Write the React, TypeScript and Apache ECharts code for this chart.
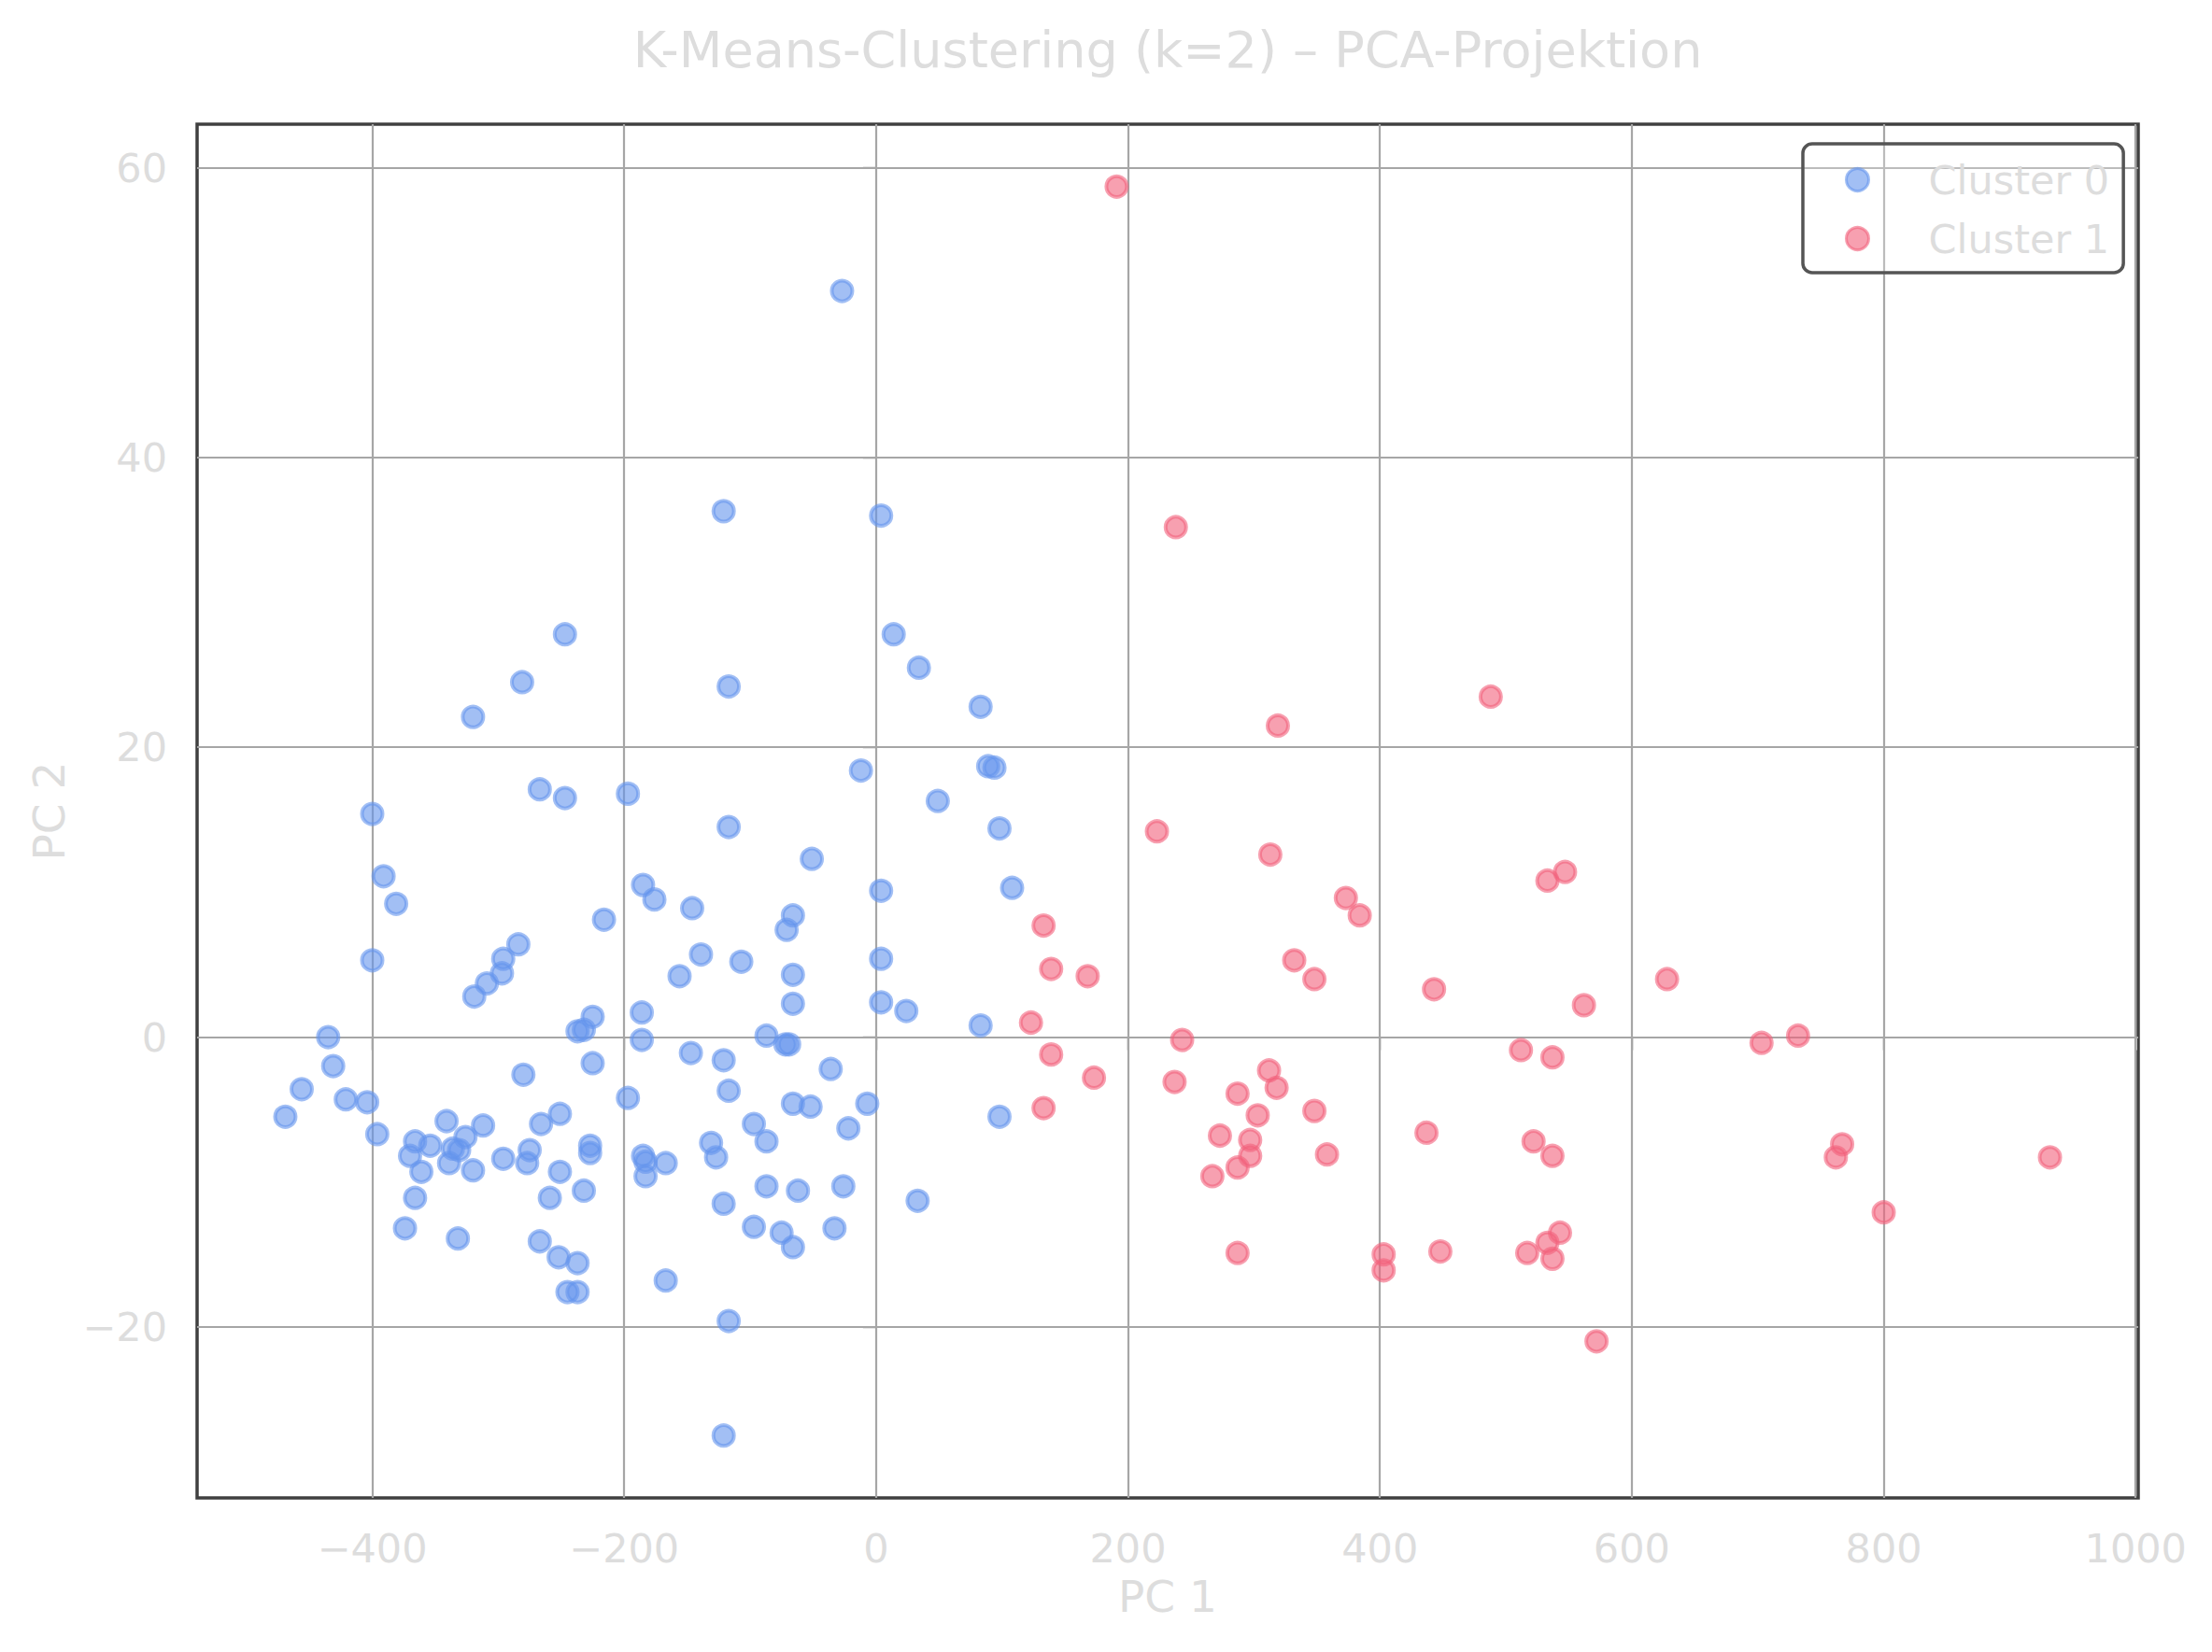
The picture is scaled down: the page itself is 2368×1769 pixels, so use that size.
import React, { useEffect, useRef } from "react";
import * as echarts from "echarts";

// PCA coordinates (PC 1, PC 2) of each sample, grouped by k-means label
const cluster0: [number, number][] = [
  [-27, 51.5], [-121, 36.3], [4, 36.0], [-247, 27.8], [14, 27.8], [34, 25.5],
  [-281, 24.5], [-117, 24.2], [83, 22.8], [-320, 22.1], [89, 18.7], [94, 18.6],
  [-12, 18.4], [-267, 17.1], [-247, 16.5], [-197, 16.8], [49, 16.3], [-400, 15.4],
  [-117, 14.5], [98, 14.4], [-51, 12.3], [-391, 11.1], [108, 10.3], [4, 10.1],
  [-381, 9.2], [-185, 10.5], [-176, 9.5], [-146, 8.9], [-66, 8.4], [-71, 7.4],
  [-216, 8.1], [-284, 6.4], [-296, 5.4], [-400, 5.3], [4, 5.4], [-139, 5.7],
  [-107, 5.2], [-297, 4.4], [-66, 4.3], [-156, 4.2], [-309, 3.7], [-319, 2.8],
  [-66, 2.3], [4, 2.4], [24, 1.8], [-225, 1.4], [-186, 1.7], [83, 0.8],
  [-232, 0.5], [-237, 0.4], [-435, 0], [-186, -0.2], [-87, 0.1], [-72, -0.5],
  [-69, -0.5], [-147, -1.1], [-121, -1.6], [-431, -2.0], [-225, -1.8], [-36, -2.2],
  [-280, -2.6], [-456, -3.6], [-117, -3.7], [-421, -4.3], [-404, -4.5], [-197, -4.2],
  [-66, -4.6], [-52, -4.8], [-7, -4.6], [-469, -5.5], [-251, -5.3], [-341, -5.8],
  [98, -5.5], [-97, -6.0], [-266, -6.0], [-312, -6.1], [-22, -6.3], [-396, -6.7],
  [-326, -6.9], [-366, -7.2], [-131, -7.3], [-87, -7.2], [-354, -7.5], [-227, -7.5],
  [-227, -8.0], [-336, -7.7], [-331, -7.8], [-275, -7.8], [-370, -8.2], [-127, -8.3],
  [-296, -8.4], [-185, -8.2], [-183, -8.6], [-167, -8.7], [-339, -8.7], [-277, -8.7],
  [-361, -9.3], [-320, -9.2], [-251, -9.3], [-183, -9.6], [-87, -10.3], [-26, -10.3],
  [-232, -10.6], [-62, -10.6], [-366, -11.1], [-259, -11.1], [-121, -11.5], [33, -11.3],
  [-374, -13.2], [-97, -13.1], [-33, -13.2], [-75, -13.5], [-332, -13.9], [-267, -14.1],
  [-66, -14.5], [-252, -15.2], [-237, -15.6], [-167, -16.8], [-245, -17.6], [-237, -17.6],
  [-117, -19.6], [-121, -27.5],
];

const cluster1: [number, number][] = [
  [191, 58.7], [238, 35.2], [488, 23.5], [319, 21.5], [223, 14.2], [313, 12.6],
  [547, 11.4], [533, 10.8], [373, 9.6], [384, 8.4], [133, 7.7], [332, 5.3],
  [139, 4.7], [168, 4.2], [348, 4.0], [628, 4.0], [443, 3.3], [562, 2.2],
  [123, 1.0], [243, -0.2], [703, -0.4], [732, 0.1], [512, -0.9], [139, -1.2],
  [537, -1.4], [312, -2.3], [173, -2.8], [237, -3.1], [318, -3.5], [287, -3.9],
  [133, -4.9], [348, -5.1], [303, -5.4], [437, -6.6], [273, -6.8], [297, -7.1],
  [522, -7.2], [767, -7.4], [358, -8.1], [297, -8.2], [537, -8.2], [762, -8.3],
  [932, -8.3], [287, -9.0], [267, -9.6], [800, -12.1], [543, -13.5], [533, -14.2],
  [287, -14.9], [403, -15.0], [448, -14.8], [517, -14.9], [537, -15.3], [403, -16.1],
  [572, -21.0],
];

const seriesNames = ["Cluster 0", "Cluster 1"];
const xTicks = [-400, -200, 0, 200, 400, 600, 800, 1000];
const yTicks = [-20, 0, 20, 40, 60];

const BLUE = "rgb(100,149,237)";
const RED = "rgb(242,97,123)";
const LIGHT = "#dddddd";
const FONT = "DejaVu Sans";

// axis limits with a 5% margin around the data extent
function paddedRange(values: number[]): [number, number] {
  const lo = Math.min(...values);
  const hi = Math.max(...values);
  const pad = (hi - lo) * 0.05;
  return [lo - pad, hi + pad];
}

const allPoints = [...cluster0, ...cluster1];
const [xMin, xMax] = paddedRange(allPoints.map((p) => p[0]));
const [yMin, yMax] = paddedRange(allPoints.map((p) => p[1]));

const minusSign = (v: number) => String(v).replace("-", "\u2212");

export default function App() {
  const ref = useRef<HTMLDivElement>(null);

  useEffect(() => {
    if (!ref.current) return;
    const chart = echarts.init(ref.current, undefined, { renderer: "svg" });

    const pointStyle = (c: string) => ({
      color: c,
      borderColor: c,
      borderWidth: 4,
      opacity: 0.6,
    });

    chart.setOption({
      animation: false,
      backgroundColor: "#ffffff",
      textStyle: { fontFamily: FONT },
      title: {
        text: "K-Means-Clustering (k=2) \u2013 PCA-Projektion",
        left: 1250,
        top: 26,
        padding: 0,
        textAlign: "center",
        textStyle: { color: LIGHT, fontSize: 54, fontWeight: "normal", fontFamily: FONT },
      },
      legend: {
        data: seriesNames,
        orient: "vertical",
        left: 1930,
        top: 154,
        icon: "circle",
        itemWidth: 24,
        itemHeight: 24,
        itemGap: 20,
        padding: [17, 15, 15, 45],
        borderColor: "#555555",
        borderWidth: 3.5,
        borderRadius: 10,
        backgroundColor: "rgba(255,255,255,0.25)",
        itemStyle: { borderWidth: 3 },
        textStyle: {
          color: LIGHT,
          fontSize: 43,
          fontFamily: FONT,
          padding: [0, 0, 0, 59],
        },
      },
      grid: {
        left: 211,
        top: 133,
        width: 2078,
        height: 1471,
        show: true,
        borderColor: "#404040",
        borderWidth: 3.5,
        backgroundColor: "transparent",
      },
      xAxis: {
        type: "value",
        min: xMin,
        max: xMax,
        name: "PC 1",
        nameLocation: "middle",
        nameGap: 82,
        nameTextStyle: { color: LIGHT, fontSize: 47, fontFamily: FONT },
        axisLine: { show: false },
        axisTick: {
          show: true,
          customValues: xTicks,
          length: 14,
          lineStyle: { color: LIGHT, width: 2.5 },
        },
        axisLabel: {
          customValues: xTicks,
          formatter: minusSign,
          margin: 32,
          color: LIGHT,
          fontSize: 43,
          fontFamily: FONT,
        },
        splitLine: { show: false },
      },
      yAxis: {
        type: "value",
        min: yMin,
        max: yMax,
        name: "PC 2",
        nameLocation: "middle",
        nameGap: 135,
        nameTextStyle: { color: LIGHT, fontSize: 47, fontFamily: FONT },
        axisLine: { show: false },
        axisTick: {
          show: true,
          customValues: yTicks,
          length: 14,
          lineStyle: { color: LIGHT, width: 2.5 },
        },
        axisLabel: {
          customValues: yTicks,
          formatter: minusSign,
          margin: 32,
          color: LIGHT,
          fontSize: 43,
          fontFamily: FONT,
        },
        splitLine: { show: false },
      },
      series: [
        {
          name: seriesNames[0],
          type: "scatter",
          data: cluster0,
          symbol: "circle",
          symbolSize: 22,
          itemStyle: pointStyle(BLUE),
          z: 3,
          emphasis: { disabled: true },
          // grid lines at the tick positions, kept beneath the points
          markLine: {
            silent: true,
            z: 1,
            symbol: ["none", "none"],
            label: { show: false },
            emphasis: { disabled: true },
            lineStyle: { type: "solid", color: "#a6a6a6", width: 2.2, opacity: 1 },
            data: [
              ...xTicks.map((v) => ({ xAxis: v })),
              ...yTicks.map((v) => ({ yAxis: v })),
            ],
          },
        },
        {
          name: seriesNames[1],
          type: "scatter",
          data: cluster1,
          symbol: "circle",
          symbolSize: 22,
          itemStyle: pointStyle(RED),
          z: 3,
          emphasis: { disabled: true },
        },
      ],
    });

    return () => chart.dispose();
  }, []);

  return (
    <div
      ref={ref}
      style={{ position: "absolute", left: 0, top: 0, width: 2368, height: 1769 }}
    />
  );
}
